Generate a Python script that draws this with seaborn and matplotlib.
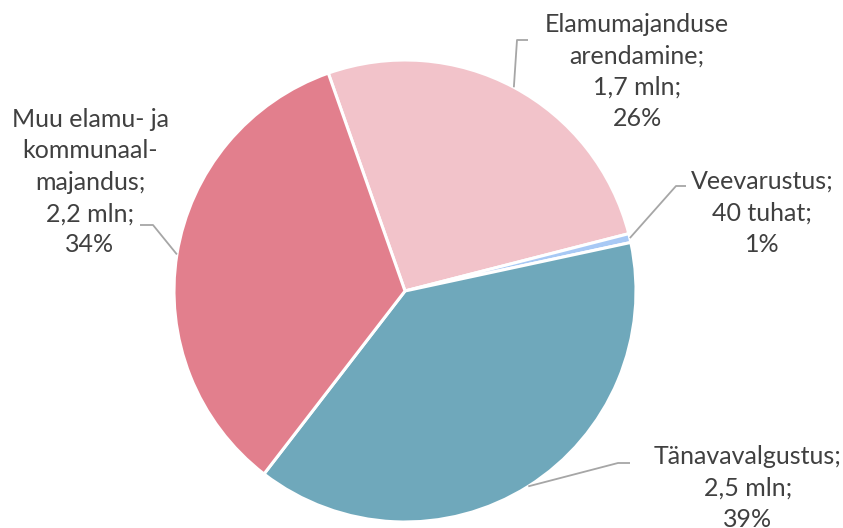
import numpy as np
import matplotlib
matplotlib.use("Agg")
import matplotlib.pyplot as plt
import seaborn as sns

categories = ["Elamumajanduse\narendamine", "Veevarustus", "Tänavavalgustus", "Muu elamu- ja\nkommunaal-\nmajandus"]
values = [1.7, 0.04, 2.5, 2.2]
value_labels = ["1,7 mln", "40 tuhat", "2,5 mln", "2,2 mln"]
pct_labels = ["26%", "1%", "39%", "34%"]
colors = ["#F2C3CA", "#A8C9F5", "#6FA8BB", "#E27F8D"]

sns.set_theme(style="white")
plt.rcParams['font.family'] = ['Lato', 'DejaVu Sans']

W, H = 843, 528
fig = plt.figure(figsize=(W / 100, H / 100), dpi=100)
ax = fig.add_axes([0, 0, 1, 1])

cx, cy, r = 405, H - 291, 231
wedges, _ = ax.pie(values, colors=colors, startangle=109.4, counterclock=False,
                   center=(cx, cy), radius=r, frame=True,
                   wedgeprops=dict(edgecolor='white', linewidth=2.2))
ax.set_xlim(0, W)
ax.set_ylim(0, H)
ax.set_aspect('equal')
ax.axis('off')

# label layout: (text center x, top y in px), leader elbow points (px)
label_pos = [(637, 13), (762, 170), (748, 445), (90, 108)]
elbows = [[(517, 40), (528, 40)], [(676, 186), (686, 186)], [(618, 463), (630, 463)], [(153, 225), (140, 225)]]

for i, w in enumerate(wedges):
    mid = np.deg2rad((w.theta1 + w.theta2) / 2)
    sx, sy = cx + r * np.cos(mid), cy + r * np.sin(mid)
    xs = [sx] + [p[0] for p in elbows[i]]
    ys = [sy] + [H - p[1] for p in elbows[i]]
    ax.plot(xs, ys, color='#A6A6A6', lw=1.3, solid_capstyle='butt')
    txt = f"{categories[i]};\n{value_labels[i]};\n{pct_labels[i]}"
    lx, ly = label_pos[i]
    ax.text(lx, H - ly, txt, ha='center', va='top', fontsize=18, color='#404040',
            linespacing=1.44, transform=ax.transData)

fig.savefig("out.png", dpi=100)
